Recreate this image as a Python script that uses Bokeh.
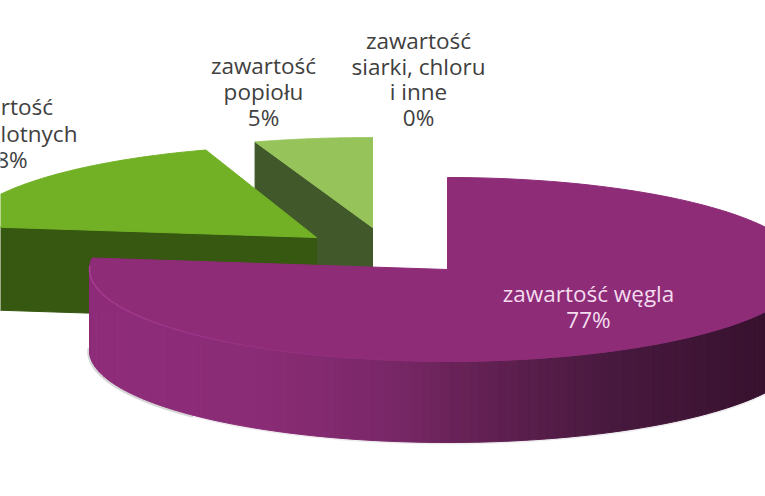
import numpy as np
from bokeh.plotting import figure
from bokeh.models import Range1d
from bokeh.core.properties import value
from bokeh.embed import file_html
from bokeh.resources import INLINE

# data
slice_names = ["zawartość węgla", "zawartość części lotnych", "zawartość popiołu", "zawartość siarki, chloru i inne"]
slice_values = [77, 18, 5, 0]

label_lines = [
    ["zawartość węgla", "77%"],
    ["zawartość", "części lotnych", "18%"],
    ["zawartość", "popiołu", "5%"],
    ["zawartość", "siarki, chloru", "i inne", "0%"],
]

# style
top_colors = ["#8e2c78", "#72b126", "#96c45a", "#b5d68c"]
cut_colors = ["#6b2359", "#375810", "#41592a", "#41592a"]
centers = [(447, 269), (316, 237), (372, 227), (372, 227)]
radii = [(358, 92), (358, 92), (380, 90), (380, 90)]
depths = [81, 83, 81, 81]
label_x = [[588, 588], [0, 5, 5], [263, 263, 263], [418, 418, 418, 418]]
label_y = [[293, 319], [106, 133, 159], [65, 91, 117], [40, 66, 91, 117]]
label_colors = ["#f3dcee", "#404040", "#404040", "#404040"]
wall_stops_x = [89, 250, 330, 400, 450, 600, 765]
wall_stops_rgb = [(0x8f, 0x2d, 0x7a), (0x8b, 0x2c, 0x77), (0x82, 0x2a, 0x6f), (0x77, 0x27, 0x66),
                  (0x6a, 0x23, 0x59), (0x4a, 0x1a, 0x40), (0x38, 0x12, 0x2f)]

p = figure(width=765, height=496, output_backend="svg", toolbar_location=None,
           x_range=Range1d(0, 765), y_range=Range1d(496, 0),
           min_border=0, outline_line_color=None, background_fill_color="white",
           border_fill_color="white")
p.axis.visible = False
p.grid.visible = False


def pt(i, deg):
    cx, cy = centers[i]
    rx, ry = radii[i]
    t = np.radians(deg)
    return cx + rx * np.sin(t), cy - ry * np.cos(t)


total = sum(slice_values)
edges = np.concatenate([[0], np.cumsum(slice_values) / total * 360])


def top_poly(i):
    a = np.linspace(edges[i], edges[i + 1], 200)
    x, y = pt(i, a)
    cx, cy = centers[i]
    return np.r_[cx, x], np.r_[cy, y]


def cut_poly(i, deg):
    cx, cy = centers[i]
    x, y = pt(i, deg)
    return [cx, x, x, cx], [cy, y, y + depths[i], cy + depths[i]]


# back slices first: ash, then volatiles
for i in (2, 1):
    xs, ys = cut_poly(i, edges[i])
    p.patch(xs, ys, fill_color=cut_colors[i], line_color=cut_colors[i], line_width=1)
    xs, ys = top_poly(i)
    p.patch(xs, ys, fill_color=top_colors[i], line_color=top_colors[i], line_width=1)

# soft shadow under the coal slice
a = np.linspace(225, 272, 50)
sx, sy = pt(0, a)
p.line(sx - 1, sy + depths[0] + 1, line_color="#8a8a8a", line_alpha=0.35, line_width=2.5)
a = np.linspace(100, 225, 80)
sx, sy = pt(0, a)
p.line(sx, sy + depths[0] + 1, line_color="#b0a0b0", line_alpha=0.2, line_width=2)

# coal slice outer wall, strip by strip
angles = np.linspace(90, edges[1], 120)
for a0, a1 in zip(angles[:-1], angles[1:]):
    x0, y0 = pt(0, a0)
    x1, y1 = pt(0, a1)
    xm = (x0 + x1) / 2
    rgb = [int(np.interp(xm, wall_stops_x, [c[k] for c in wall_stops_rgb])) for k in range(3)]
    col = "#%02x%02x%02x" % tuple(rgb)
    p.patch([x0, x1, x1, x0], [y0, y1, y1 + depths[0], y0 + depths[0]], fill_color=col, line_color=col, line_width=1)

xs, ys = top_poly(0)
p.patch(xs, ys, fill_color=top_colors[0], line_color=top_colors[0], line_width=1)

# highlight along the rim
hl = np.linspace(edges[1] - 5, 195, 40)
hx, hy = pt(0, hl)
for k in range(len(hl) - 1):
    p.line(hx[k:k + 2], hy[k:k + 2], line_color="#ad3f99", line_width=1.5,
           line_alpha=float(0.95 * (1 - k / (len(hl) - 1)) + 0.05))

# labels
for i, lines in enumerate(label_lines):
    p.text(label_x[i], label_y[i], text=lines,
           text_font=value("Open Sans"), text_font_size="22.5px",
           text_color=label_colors[i], text_align="center", text_baseline="middle")

open("out.html", "w").write(file_html(p, INLINE))
